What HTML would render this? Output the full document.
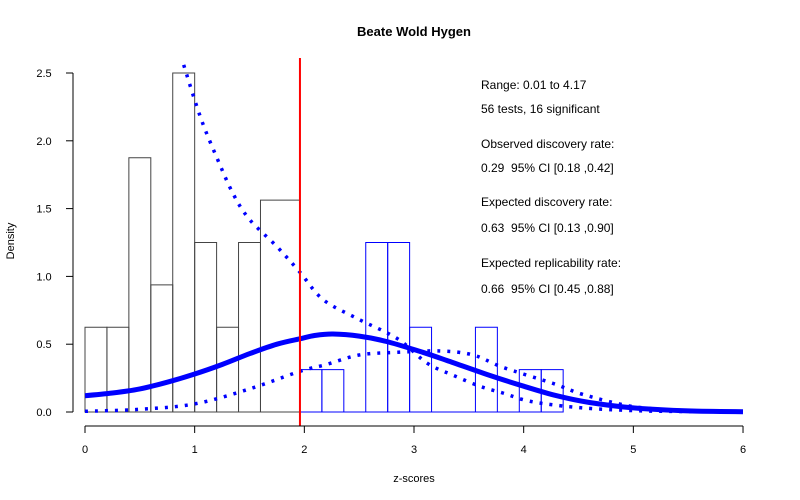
<!DOCTYPE html>
<html><head><meta charset="utf-8"><style>body{margin:0;background:#fff}svg{display:block;font-family:"Liberation Sans",Arial,sans-serif}text{white-space:pre}</style></head>
<body>
<svg id="c" width="800" height="500"></svg>
<script>
const blackBins=[0,0.2,0.4,0.6,0.8,1.0,1.2,1.4,1.6,1.96];
const blackDens=[0.625,0.625,1.875,0.9375,2.5,1.25,0.625,1.25,1.5625];
const blueBins=[1.96,2.16,2.36,2.56,2.76,2.96,3.16,3.36,3.56,3.76,3.96,4.16,4.36];
const blueDens=[0.3125,0.3125,0,1.25,1.25,0.625,0,0,0.625,0,0.3125,0.3125];
const fitZ=[0,0.25,0.5,0.75,1,1.25,1.5,1.75,1.96,2.1,2.26,2.5,2.75,3.08,3.3,3.69,4,4.3,4.6,5,5.5,6];
const fitD=[0.12,0.14,0.17,0.22,0.28,0.35,0.43,0.50,0.54,0.565,0.575,0.56,0.52,0.44,0.38,0.27,0.19,0.12,0.07,0.03,0.008,0.002];
const upZ=[0.9,1.05,1.2,1.35,1.5,1.75,1.96,2.17,2.48,2.85,3.12,3.36,3.6,3.81,4.0,4.2,4.54,5,5.5,6];
const upD=[2.56,2.18,1.88,1.61,1.42,1.22,1.03,0.83,0.69,0.54,0.36,0.27,0.19,0.14,0.09,0.06,0.03,0.01,0.003,0.001];
const loZ=[0,0.5,1,1.5,1.96,2.2,2.5,2.85,3.24,3.54,3.81,4.27,4.54,5,5.5,6];
const loD=[0.005,0.02,0.06,0.17,0.3,0.35,0.42,0.44,0.45,0.42,0.33,0.21,0.13,0.04,0.01,0.002];
const xTicks=[0,1,2,3,4,5,6];
const yTicks=[0,0.5,1.0,1.5,2.0,2.5];
const crit=1.96;
const notes=["Range: 0.01 to 4.17","56 tests, 16 significant","Observed discovery rate:","0.29  95% CI [0.18 ,0.42]","Expected discovery rate:","0.63  95% CI [0.13 ,0.90]","Expected replicability rate:","0.66  95% CI [0.45 ,0.88]"];
const noteY=[89,113,148,172,206,232,267,293];

const X=z=>85+z*109.67, Y=d=>412-d*135.6;
const svg=document.getElementById('c');const NS='http://www.w3.org/2000/svg';
function mk(t,a,p){const e=document.createElementNS(NS,t);for(const k in a)e.setAttribute(k,a[k]);(p||svg).appendChild(e);return e;}
function txt(s,x,y,a){const e=mk('text',Object.assign({x:x,y:y,'font-size':12,fill:'#000'},a||{}));e.textContent=s;return e;}
const t=txt('Beate Wold Hygen',414,36,{'text-anchor':'middle','font-weight':'bold','font-size':13});

for(let i=0;i<blackDens.length;i++){const r=mk('rect',{x:X(blackBins[i]),y:Y(blackDens[i]),width:X(blackBins[i+1])-X(blackBins[i]),height:blackDens[i]*135.6,fill:'none',stroke:'#444','stroke-width':1});
}
for(let i=0;i<blueDens.length;i++){if(!blueDens[i])continue;const r=mk('rect',{x:X(blueBins[i]),y:Y(blueDens[i]),width:X(blueBins[i+1])-X(blueBins[i]),height:blueDens[i]*135.6,fill:'none',stroke:'#0000ff','stroke-width':1});
}
mk('line',{x1:X(crit),x2:X(blueBins[blueBins.length-1]),y1:412,y2:412,stroke:'#0000ff'});
function path(zs,ds){const P=zs.map((z,i)=>[X(z),Y(ds[i])]);let d='M'+P[0][0].toFixed(1)+','+P[0][1].toFixed(1);
for(let i=0;i<P.length-1;i++){const p0=P[i-1]||P[i],p1=P[i],p2=P[i+1],p3=P[i+2]||P[i+1];
const c1=[p1[0]+(p2[0]-p0[0])/6,p1[1]+(p2[1]-p0[1])/6],c2=[p2[0]-(p3[0]-p1[0])/6,p2[1]-(p3[1]-p1[1])/6];
d+='C'+c1.map(v=>v.toFixed(1)).join(',')+' '+c2.map(v=>v.toFixed(1)).join(',')+' '+p2.map(v=>v.toFixed(1)).join(',');}return d;}
let p=mk('path',{d:path(upZ,upD),fill:'none',stroke:'#0000ff','stroke-width':3.5,'stroke-dasharray':'3 7','stroke-linecap':'butt'});

p=mk('path',{d:path(loZ,loD),fill:'none',stroke:'#0000ff','stroke-width':3.5,'stroke-dasharray':'3 7'});

p=mk('path',{d:path(fitZ,fitD),fill:'none',stroke:'#0000ff','stroke-width':5});

p=mk('line',{x1:X(crit),x2:X(crit),y1:58,y2:426,stroke:'#ff0000','stroke-width':2});

const xa=mk('g',{});
mk('line',{x1:X(0),x2:X(6),y1:426,y2:426,stroke:'#000'},xa);
xTicks.forEach(v=>{mk('line',{x1:X(v),x2:X(v),y1:426,y2:433,stroke:'#000'},xa);txt(String(v),X(v),453,{'text-anchor':'middle','font-size':11});});
const ya=mk('g',{});
mk('line',{x1:73,x2:73,y1:Y(0),y2:Y(2.5),stroke:'#000'},ya);
yTicks.forEach(v=>{mk('line',{x1:66,x2:73,y1:Y(v),y2:Y(v),stroke:'#000'},ya);txt(v.toFixed(1),44,Y(v)+4,{'text-anchor':'middle','font-size':11});});
let e=txt('z-scores',414,482,{'text-anchor':'middle','font-size':11});
e=txt('Density',14,241,{'text-anchor':'middle','font-size':11,transform:'rotate(-90 14 241)'});
notes.forEach((s,i)=>{const n=txt(s,481,noteY[i],{'font-size':12});});
</script>
</body></html>
